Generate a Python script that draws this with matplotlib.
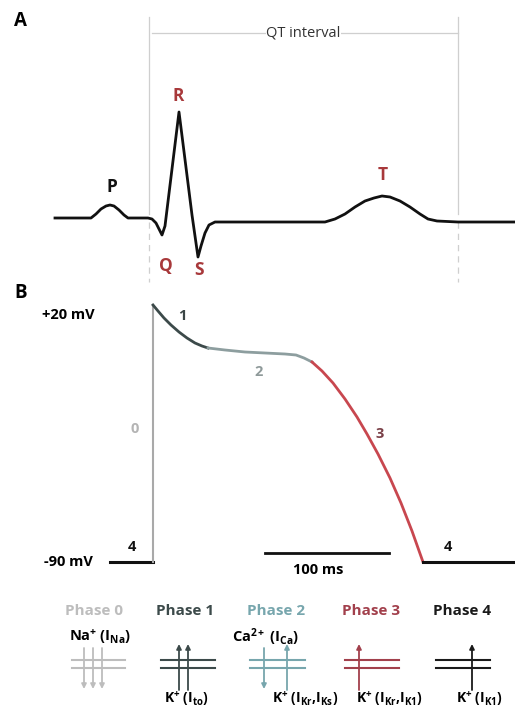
import matplotlib
matplotlib.use("Agg")
import matplotlib.pyplot as plt

plt.rcParams['font.family'] = ['Open Sans', 'DejaVu Sans']
plt.rcParams['mathtext.fontset'] = 'custom'
plt.rcParams['mathtext.rm'] = 'Open Sans'
plt.rcParams['mathtext.bf'] = 'Open Sans:bold'
plt.rcParams['mathtext.it'] = 'Open Sans:italic'
plt.rcParams['mathtext.default'] = 'bf'

# canvas units follow the reference picture: x to the right, y downwards

# panel A, ECG trace samples
ecg_x = [55, 91, 96, 101, 106, 110, 114, 119, 124, 128, 148, 152, 156, 159, 162, 165, 179,
         192, 198, 201, 205, 209, 215, 270, 325, 335, 345, 355, 365, 374, 382, 390, 400,
         410, 420, 428, 437, 458, 515]
ecg_y = [218, 218, 214, 209, 206, 205, 206, 210, 215, 218, 218, 219, 223, 229, 235, 226, 112,
         215, 257, 246, 233, 225, 222, 222, 222, 219, 214, 207, 201, 198, 196, 197, 201,
         207, 214, 219, 221, 222, 222]
qt_start = 149
qt_end = 458
wave_labels = ['P', 'R', 'Q', 'S', 'T']
wave_label_x = [112, 178, 166, 199, 383]
wave_label_y = [187, 96, 266, 270, 175]
wave_label_col = ['#111111', '#a8393b', '#a8393b', '#a8393b', '#a8393b']

# panel B, action potential samples by phase
ap_rest_x = [110, 153]
ap_rest_y = [562, 562]
ap_phase0_x = [153, 153]
ap_phase0_y = [562, 305]
ap_phase1_x = [153, 158, 164, 171, 179, 187, 195, 202, 208]
ap_phase1_y = [305, 311, 318, 325, 332, 338, 343, 346, 348]
ap_phase2_x = [208, 225, 245, 265, 285, 296, 304, 312]
ap_phase2_y = [348, 350, 352, 353, 354, 355, 358, 362]
ap_phase3_x = [312, 322, 333, 345, 357, 367, 378, 390, 401, 412, 423]
ap_phase3_y = [362, 371, 383, 399, 417, 434, 454, 478, 503, 531, 562]
ap_phase4_x = [423, 515]
ap_phase4_y = [562, 562]
phase_numbers = ['0', '1', '2', '3', '4', '4']
phase_number_x = [135, 182, 259, 380, 132, 448]
phase_number_y = [429, 316, 372, 434, 547, 547]
phase_number_col = ['#b4b4b4', '#3b4646', '#8f9a9a', '#7a4048', '#111111', '#111111']

# bottom row, ion currents per phase
phase_titles = ['Phase 0', 'Phase 1', 'Phase 2', 'Phase 3', 'Phase 4']
phase_title_x = [94, 185, 276, 371, 462]
phase_colors = ['#bdbdbd', '#3c4a4a', '#77a6ad', '#a2404c', '#1a1a1a']
membrane_left = [72, 161, 250, 345, 436]
membrane_right = [125, 215, 305, 399, 490]
arrow_phase = [0, 0, 0, 1, 1, 2, 2, 3, 4]
arrow_x = [84, 93, 102, 179, 188, 264, 287, 359, 472]
arrow_dir = [-1, -1, -1, 1, 1, -1, 1, 1, 1]
inward_labels = [r'Na$^{+}$ (I$_{Na}$)', r'Ca$^{2+}$ (I$_{Ca}$)']
inward_label_x = [100, 266]
outward_labels = [r'K$^{+}$ (I$_{to}$)', r'K$^{+}$ (I$_{Kr}$,I$_{Ks}$)',
                  r'K$^{+}$ (I$_{Kr}$,I$_{K1}$)', r'K$^{+}$ (I$_{K1}$)']
outward_label_x = [187, 305, 389, 479]

fig = plt.figure(figsize=(5.15, 7.11), dpi=100)
ax = fig.add_axes([0, 0, 1, 1])
ax.set_xlim(0, 515)
ax.set_ylim(711, 0)
ax.axis('off')

# ---- panel A ----
ax.text(14, 21, 'A', fontsize=13.5, fontweight='bold', ha='left', va='center')
for qx in [qt_start, qt_end]:
    ax.plot([qx, qx], [17, 214], color='#cfcfcf', lw=0.9)
    ax.plot([qx, qx], [222, 282], color='#cfcfcf', lw=0.9, ls=(0, (5, 4)))
ax.plot([qt_start + 3, qt_end], [33, 33], color='#cfcfcf', lw=0.9)
ax.text((qt_start + qt_end) / 2, 33, 'QT interval', fontsize=10.5, ha='center', va='center',
        color='#333333', bbox=dict(facecolor='white', edgecolor='none', pad=0.5))
ax.plot(ecg_x, ecg_y, color='#111111', lw=2.0, solid_joinstyle='round')
for lab, lx, ly, lc in zip(wave_labels, wave_label_x, wave_label_y, wave_label_col):
    ax.text(lx, ly, lab, fontsize=12.5, fontweight='bold', color=lc, ha='center', va='center')

# ---- panel B ----
ax.text(14, 293, 'B', fontsize=13.5, fontweight='bold', ha='left', va='center')
ax.text(68, 315, '+20 mV', fontsize=10.5, fontweight='bold', ha='center', va='center')
ax.text(68, 562, '-90 mV', fontsize=10.5, fontweight='bold', ha='center', va='center')
ax.plot(ap_rest_x, ap_rest_y, color='#111111', lw=2.2)
ax.plot(ap_phase0_x, ap_phase0_y, color='#a9a9a9', lw=1.5)
ax.plot(ap_phase1_x, ap_phase1_y, color='#3c4a4a', lw=2.0)
ax.plot(ap_phase2_x, ap_phase2_y, color='#8d9e9f', lw=2.0)
ax.plot(ap_phase3_x, ap_phase3_y, color='#c8474f', lw=2.0)
ax.plot(ap_phase4_x, ap_phase4_y, color='#111111', lw=2.2)
for lab, lx, ly, lc in zip(phase_numbers, phase_number_x, phase_number_y, phase_number_col):
    ax.text(lx, ly, lab, fontsize=10.5, fontweight='bold', color=lc, ha='center', va='center')
ax.plot([265, 389], [553, 553], color='#111111', lw=2.0)
ax.text(318, 570, '100 ms', fontsize=10.5, fontweight='bold', ha='center', va='center')

# ---- ion currents ----
for i, title in enumerate(phase_titles):
    col = phase_colors[i]
    ax.text(phase_title_x[i], 611, title, fontsize=11, fontweight='bold', color=col,
            ha='center', va='center')
    for my in [660, 668]:
        ax.plot([membrane_left[i], membrane_right[i]], [my, my], color=col, lw=1.5)
for p, axx, d in zip(arrow_phase, arrow_x, arrow_dir):
    col = phase_colors[p]
    if d > 0:
        tail, head = 690, 644
    else:
        tail, head = 648, 689
    ax.annotate('', xy=(axx, head), xytext=(axx, tail),
                arrowprops=dict(arrowstyle='-|>', color=col, lw=1.3, mutation_scale=7,
                                shrinkA=0, shrinkB=0))
for lab, lx in zip(inward_labels, inward_label_x):
    ax.text(lx, 637, lab, fontsize=10.5, fontweight='bold', ha='center', va='center')
for lab, lx in zip(outward_labels, outward_label_x):
    ax.text(lx, 699, lab, fontsize=10, fontweight='bold', ha='center', va='center')

fig.savefig('out.png', dpi=100)
